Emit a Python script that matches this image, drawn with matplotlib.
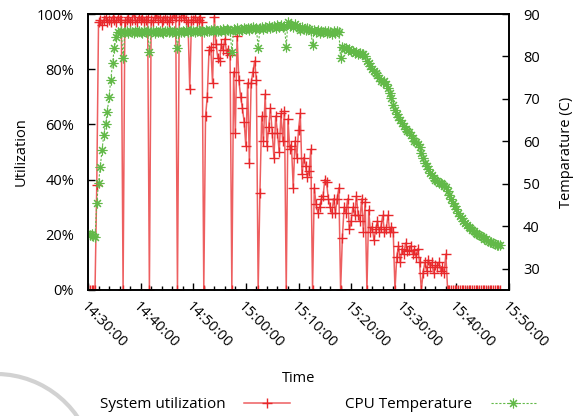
import datetime as dt
import matplotlib
matplotlib.use("Agg")
import matplotlib.pyplot as plt
import matplotlib.dates as mdates
from matplotlib.patches import Arc
from matplotlib.ticker import FuncFormatter, MultipleLocator

plt.rcParams['font.family'] = ['Open Sans', 'DejaVu Sans']
plt.rcParams['font.size'] = 10.5

# samples every 20 s starting at 14:30:00
start = dt.datetime(2013, 1, 1, 14, 30, 0)
step_sec = 20

# system utilization (%), one row = 5 minutes
utilization = [
    0, 0, 0, 0, 0, 38, 97, 98, 96, 98, 99, 97, 98, 97, 99,
    98, 97, 99, 98, 98, 0, 97, 98, 99, 97, 98, 100, 98, 97, 99,
    98, 99, 97, 98, 99, 0, 98, 97, 99, 100, 98, 99, 97, 98, 99,
    98, 97, 99, 98, 100, 99, 0, 98, 99, 100, 99, 98, 97, 73, 98,
    98, 99, 97, 98, 99, 97, 0, 63, 70, 87, 88, 75, 99, 89, 84,
    83, 89, 87, 91, 86, 87, 85, 0, 79, 57, 92, 76, 70, 66, 61,
    52, 75, 46, 75, 79, 83, 76, 0, 35, 63, 54, 71, 52, 59, 66,
    57, 48, 63, 57, 50, 64, 54, 65, 0, 62, 51, 52, 37, 54, 48,
    58, 64, 42, 48, 45, 41, 43, 51, 0, 37, 31, 28, 30, 33, 34,
    40, 39, 33, 30, 28, 33, 28, 33, 37, 0, 19, 30, 28, 33, 22,
    25, 30, 27, 34, 27, 25, 33, 21, 32, 0, 29, 21, 23, 18, 22,
    25, 21, 23, 27, 21, 22, 27, 21, 23, 21, 0, 12, 16, 10, 15,
    13, 17, 14, 14.5, 16, 13, 14.5, 12, 15, 10, 0, 6, 10, 7, 11,
    8.5, 10, 6, 9, 8.5, 10, 7, 8.5, 6, 13, 0, 0, 0, 0, 0,
    0, 0, 0, 0, 0, 0, 0, 0, 0, 0, 0, 0, 0, 0, 0,
    0, 0, 0, 0, 0, 0, 0, 0, 0, 0, 0,
]

# CPU temperature (C), one row = 5 minutes
temperature = [
    38.3, 38.0, 38.2, 37.8, 37.4, 45.5, 50.3, 54.0, 58.0, 61.5, 64.0, 67.0, 70.5, 74.5, 78.5,
    82.0, 84.5, 85.8, 85.6, 86.0, 79.6, 85.7, 85.9, 85.5, 86.0, 85.8, 85.6, 86.1, 85.7, 85.9,
    85.8, 85.6, 86.0, 85.7, 85.9, 81.1, 85.8, 86.1, 85.6, 85.9, 85.7, 86.0, 85.8, 85.6, 86.1,
    85.9, 85.7, 86.0, 85.8, 86.1, 85.6, 82.1, 85.9, 85.7, 86.0, 85.8, 86.2, 85.7, 86.0, 85.9,
    86.1, 85.8, 86.0, 86.2, 85.9, 86.1, 85.8, 86.3, 86.0, 85.9, 86.2, 86.0, 86.4, 85.9, 86.1,
    86.2, 86.0, 86.4, 86.1, 86.5, 86.3, 86.0, 81.1, 86.4, 86.2, 86.6, 86.1, 86.5, 86.3, 86.7,
    86.4, 86.8, 86.2, 86.6, 86.9, 86.5, 86.7, 81.9, 86.6, 87.0, 86.5, 86.9, 86.7, 87.1, 86.6,
    86.9, 87.2, 86.8, 87.3, 87.0, 87.4, 86.9, 87.2, 82.3, 88.2, 87.1, 87.5, 87.0, 87.6, 87.2,
    86.8, 86.3, 86.9, 86.5, 86.2, 86.7, 86.4, 86.0, 82.7, 86.3, 85.8, 86.2, 85.6, 86.0, 85.7,
    85.9, 85.5, 86.1, 85.7, 85.4, 86.0, 85.6, 85.9, 85.8, 79.6, 82.3, 82.0, 81.9, 81.5, 81.7,
    81.4, 81.2, 80.9, 81.1, 80.6, 80.8, 80.5, 80.7, 80.2, 79.0, 78.4, 77.8, 77.0, 76.5, 76.0,
    75.6, 75.0, 74.3, 73.9, 74.2, 73.5, 72.6, 71.5, 70.2, 68.5, 67.4, 66.5, 65.8, 65.1, 64.3,
    63.6, 63.0, 62.5, 62.1, 61.5, 60.8, 60.2, 59.8, 59.5, 58.6, 57.2, 56.0, 55.0, 54.2, 53.5,
    52.6, 52.0, 51.4, 51.0, 50.6, 50.3, 50.1, 49.9, 49.6, 49.3, 48.3, 47.3, 46.5, 45.6, 44.8,
    44.0, 43.2, 42.5, 41.9, 41.3, 40.8, 40.3, 39.9, 39.5, 39.1, 38.8, 38.5, 38.2, 37.9, 37.6,
    37.4, 37.1, 36.9, 36.6, 36.4, 36.2, 36.0, 35.9, 35.7, 35.6, 35.6,
]

times = [start + dt.timedelta(seconds=i * step_sec) for i in range(len(utilization))]

red = '#e8282b'
green = '#62b948'

fig = plt.figure(figsize=(5.82, 4.16), dpi=100)
ax = fig.add_axes([0.1512, 0.3029, 0.7234, 0.6634])
ax2 = ax.twinx()

l1, = ax.plot(times, utilization, color=(0.91, 0.16, 0.17, 0.75), lw=1.1,
              marker='+', ms=7, mew=1.0, markeredgecolor=red,
              label='System utilization')
l2, = ax2.plot(times, temperature, color=green, lw=0.8, dashes=(2, 1.5),
               marker=(8, 2, 0), ms=7, mew=0.8, markeredgecolor=green,
               label='CPU Temperature')

ax.set_xlim(start, start + dt.timedelta(minutes=80))
ax.set_ylim(0, 100)
ax2.set_ylim(25, 90)

ax.xaxis.set_major_locator(mdates.MinuteLocator(byminute=range(0, 60, 10)))
ax.xaxis.set_minor_locator(mdates.MinuteLocator(byminute=range(0, 60, 2)))
ax.xaxis.set_major_formatter(mdates.DateFormatter('%H:%M:%S'))
ax.yaxis.set_major_locator(MultipleLocator(20))
ax.yaxis.set_major_formatter(FuncFormatter(lambda v, p: '%d%%' % v))
ax2.set_yticks([30, 40, 50, 60, 70, 80, 90])

ax.tick_params(axis='x', which='major', direction='in', length=5, width=1, pad=7)
ax.tick_params(axis='x', which='minor', direction='in', length=3, width=1)
ax.tick_params(axis='y', direction='in', length=5, width=1, pad=10)
ax2.tick_params(axis='y', direction='in', length=5, width=1, pad=10)
for lab in ax.get_xticklabels():
    lab.set_rotation(-45)
    lab.set_ha('left')
    lab.set_va('top')
    lab.set_rotation_mode('anchor')

for a in (ax, ax2):
    for s in a.spines.values():
        s.set_linewidth(1.2)

ax.set_xlabel('Time', labelpad=14)
ax.set_ylabel('Utilization', labelpad=6)
ax2.set_ylabel('Temparature (C)', labelpad=14)

fig.legend(handles=[l1, l2], ncol=2, markerfirst=False, frameon=False,
           loc='center', bbox_to_anchor=(0.547, 0.028), handlelength=3.0,
           handletextpad=1.2, columnspacing=3.6, numpoints=1, fontsize=11)

# faint grey arc from the scanned page
fig.add_artist(Arc((-0.0069, -0.137), 0.340, 0.476, theta1=33, theta2=100,
                   transform=fig.transFigure, color='#d2d2d2', lw=3))

fig.savefig('out.png', dpi=100)
